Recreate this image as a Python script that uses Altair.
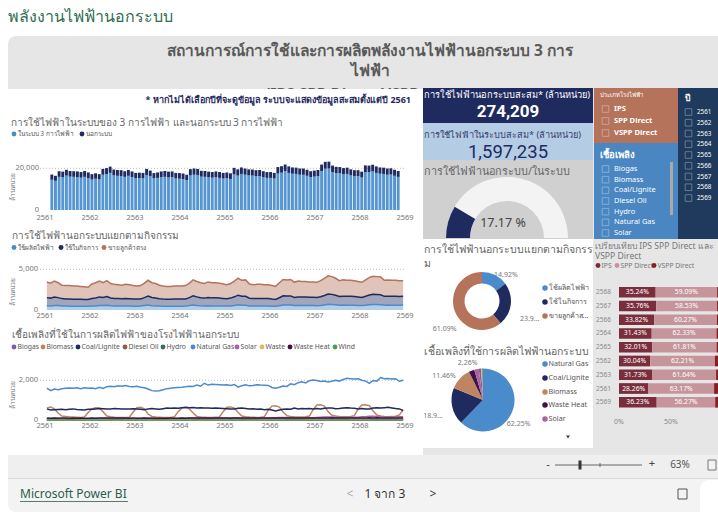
import altair as alt
import pandas as pd

FONT = "Noto Sans"
NUM_FONT = "Roboto"

# ---------------- data ----------------
year_ticks = [2561, 2562, 2563, 2564, 2565, 2566, 2567, 2568, 2569]

use_series = ["ในระบบ 3 การไฟฟ้า", "นอกระบบ"]
in_system = [
    14500, 14000, 15900, 15700, 16500, 16000, 15900, 15800, 15500, 15900, 15300, 14600,
    15000, 14700, 16900, 17200, 17800, 16600, 16400, 16300, 15900, 16400, 15800, 15200,
    15300, 15200, 16800, 16200, 15200, 15400, 15800, 15900, 15600, 15700, 15100, 15000,
    14800, 14300, 16600, 16900, 16800, 16000, 15900, 15700, 15500, 15700, 15400, 15100,
    15200, 14900, 17100, 16500, 17300, 16900, 16600, 16500, 16200, 16300, 15800, 15400,
    15400, 15100, 17500, 17900, 18600, 17800, 17400, 17300, 16900, 16900, 16400, 15800,
    16000, 16300, 18600, 19800, 19900, 18200, 17700, 17600, 17100, 17300, 16600, 16200,
    16200, 15600, 18200, 18100, 18500, 17800, 17400, 17300, 16900, 17000, 16400, 15900,
]
out_system = [
    2500, 2400, 2700, 2700, 2800, 2700, 2700, 2700, 2700, 2800, 2700, 2600,
    2600, 2500, 2800, 2900, 3000, 2800, 2800, 2800, 2700, 2800, 2700, 2600,
    2600, 2600, 2900, 2700, 2500, 2600, 2700, 2800, 2800, 2800, 2700, 2700,
    2700, 2600, 3000, 3000, 2900, 2800, 2800, 2700, 2700, 2800, 2800, 2700,
    2800, 2700, 3100, 3000, 3100, 3000, 2900, 2900, 2900, 2900, 2800, 2800,
    2800, 2700, 3100, 3100, 3200, 3100, 3000, 3000, 3000, 3000, 2900, 2800,
    2900, 2900, 3200, 3300, 3300, 3100, 3000, 3000, 3000, 3000, 2900, 2900,
    2900, 2800, 3200, 3200, 3200, 3100, 3000, 3000, 3000, 3000, 2900, 2800,
]

act_names = ["ใช้ผลิตไฟฟ้า", "ใช้ในกิจการ", "ขายลูกค้าตรง"]
act_gen = [
    520, 500, 560, 540, 500, 480, 470, 470, 460, 470, 460, 450,
    480, 500, 560, 560, 580, 520, 500, 490, 480, 490, 480, 470,
    470, 480, 540, 600, 530, 500, 480, 470, 460, 460, 470, 470,
    470, 480, 540, 620, 560, 520, 500, 520, 500, 500, 490, 480,
    480, 500, 560, 640, 580, 580, 500, 480, 490, 490, 480, 480,
    460, 450, 520, 620, 600, 610, 540, 560, 550, 550, 540, 540,
    530, 560, 620, 700, 680, 640, 580, 600, 590, 590, 580, 560,
    540, 580, 640, 680, 670, 660, 590, 600, 590, 590, 580, 600,
]
act_own = [
    1000, 960, 1040, 980, 900, 880, 870, 860, 860, 850, 840, 830,
    940, 980, 1050, 990, 1080, 960, 920, 910, 900, 930, 910, 880,
    870, 880, 980, 1100, 1000, 960, 900, 870, 860, 860, 870, 870,
    870, 880, 980, 1120, 1050, 990, 960, 1020, 990, 990, 970, 940,
    910, 960, 1060, 1180, 1100, 1110, 950, 920, 930, 930, 920, 920,
    880, 850, 990, 1130, 1110, 1120, 1010, 1050, 1040, 1040, 1020, 1020,
    1000, 1070, 1170, 1270, 1240, 1170, 1070, 1100, 1090, 1090, 1070, 1040,
    1000, 1100, 1200, 1250, 1240, 1220, 1090, 1100, 1090, 1090, 1070, 1080,
]
act_sell = [
    1930, 1840, 1950, 1830, 1650, 1640, 1660, 1620, 1630, 1580, 1550, 1520,
    1780, 1870, 1940, 1800, 1940, 1770, 1730, 1700, 1670, 1730, 1710, 1650,
    1610, 1640, 1780, 1950, 1820, 1790, 1670, 1610, 1580, 1580, 1610, 1610,
    1610, 1640, 1780, 1960, 1890, 1840, 1790, 1910, 1860, 1860, 1840, 1780,
    1710, 1790, 1930, 2080, 1970, 2010, 1750, 1700, 1730, 1730, 1700, 1700,
    1660, 1600, 1840, 2000, 1990, 2020, 1850, 1940, 1910, 1910, 1890, 1890,
    1870, 1970, 2110, 2230, 2180, 2090, 1950, 2000, 1970, 1970, 1950, 1900,
    1860, 2020, 2160, 2220, 2190, 2170, 1970, 2000, 1970, 1970, 1950, 1920,
]

fuel_names = ["Biogas", "Biomass", "Coal/Lignite", "Diesel Oil", "Hydro",
              "Natural Gas", "Solar", "Waste", "Waste Heat", "Wind"]
fuel_biogas = [
    40, 38, 41, 40, 42, 41, 40, 41, 40, 41, 40, 40,
    42, 40, 43, 42, 44, 43, 42, 43, 42, 43, 42, 42,
    43, 42, 44, 43, 44, 43, 43, 44, 43, 44, 43, 43,
    44, 43, 45, 44, 46, 45, 44, 45, 44, 45, 44, 44,
    46, 44, 47, 46, 48, 47, 46, 47, 46, 47, 46, 46,
    48, 46, 49, 48, 50, 49, 48, 49, 48, 49, 48, 48,
    50, 48, 51, 50, 52, 51, 50, 51, 50, 51, 50, 50,
    52, 50, 53, 52, 54, 53, 52, 53, 52, 53, 52, 52,
]
fuel_biomass = [
    600, 650, 560, 350, 200, 180, 160, 150, 140, 130, 150, 380,
    560, 620, 600, 420, 200, 160, 140, 130, 120, 130, 140, 400,
    620, 640, 560, 300, 180, 150, 140, 130, 120, 130, 160, 420,
    600, 630, 560, 350, 180, 150, 140, 130, 130, 140, 150, 420,
    640, 660, 600, 380, 200, 170, 150, 140, 130, 140, 170, 480,
    700, 720, 650, 400, 220, 180, 160, 150, 150, 160, 200, 520,
    760, 770, 700, 420, 240, 200, 180, 170, 170, 180, 220, 560,
    760, 770, 720, 450, 250, 200, 180, 170, 180, 190, 260, 500,
]
fuel_coal = [
    560, 500, 520, 530, 540, 520, 540, 560, 530, 520, 500, 540,
    540, 560, 580, 570, 560, 560, 580, 570, 560, 550, 560, 570,
    560, 540, 520, 560, 580, 560, 540, 570, 600, 590, 600, 590,
    620, 640, 620, 630, 610, 620, 600, 610, 590, 600, 590, 580,
    570, 560, 550, 590, 600, 580, 560, 570, 540, 550, 520, 540,
    500, 460, 500, 540, 560, 540, 600, 560, 580, 570, 580, 560,
    580, 560, 590, 610, 600, 570, 580, 600, 620, 600, 590, 560,
    580, 560, 560, 600, 620, 600, 620, 640, 610, 580, 560, 480,
]
fuel_diesel = [
    2, 1, 2, 2, 3, 2, 2, 2, 1, 2, 2, 2,
    2, 2, 3, 2, 2, 2, 1, 2, 2, 2, 2, 1,
    1, 2, 2, 3, 2, 2, 2, 2, 1, 2, 2, 2,
    2, 2, 2, 2, 3, 2, 2, 1, 2, 2, 2, 2,
    2, 1, 2, 2, 2, 3, 2, 2, 2, 2, 1, 2,
    2, 2, 2, 3, 2, 2, 2, 2, 2, 1, 2, 2,
    1, 2, 2, 2, 3, 2, 2, 2, 2, 2, 2, 2,
    2, 2, 3, 2, 2, 2, 2, 1, 2, 2, 2, 2,
]
fuel_hydro = [
    6, 5, 5, 5, 6, 8, 10, 12, 13, 11, 8, 7,
    6, 5, 5, 5, 6, 7, 9, 11, 12, 10, 8, 7,
    6, 5, 4, 4, 5, 7, 9, 11, 13, 12, 9, 7,
    6, 5, 5, 5, 6, 8, 10, 13, 14, 12, 9, 7,
    7, 6, 5, 6, 7, 9, 11, 13, 14, 12, 9, 8,
    7, 6, 5, 5, 6, 8, 10, 12, 13, 11, 8, 7,
    6, 5, 5, 5, 6, 8, 10, 12, 14, 12, 9, 8,
    7, 6, 5, 5, 6, 8, 11, 13, 14, 12, 9, 8,
]
fuel_ng = [
    1600, 1480, 1560, 1530, 1570, 1600, 1610, 1600, 1620, 1580, 1620, 1600,
    1610, 1580, 1650, 1590, 1680, 1700, 1680, 1720, 1700, 1740, 1690, 1680,
    1700, 1650, 1620, 1560, 1480, 1460, 1470, 1520, 1580, 1600, 1620, 1640,
    1650, 1670, 1700, 1690, 1760, 1700, 1850, 1760, 1800, 1790, 1780, 1760,
    1770, 1740, 1790, 1660, 1730, 1780, 1720, 1740, 1780, 1760, 1750, 1740,
    1640, 1600, 1650, 1710, 1690, 1820, 1780, 1880, 1920, 1870, 1980, 2010,
    1990, 1940, 1960, 1920, 1950, 2000, 1960, 2040, 2100, 2080, 2060, 2080,
    2000, 1960, 1850, 1990, 1960, 2140, 2080, 2090, 2070, 2080, 1950, 2000,
]
fuel_solar = [
    62, 66, 72, 70, 68, 62, 60, 60, 58, 62, 64, 62,
    68, 72, 80, 78, 74, 68, 66, 66, 64, 68, 70, 68,
    74, 80, 88, 86, 82, 76, 74, 72, 70, 74, 78, 76,
    82, 88, 96, 94, 90, 84, 80, 78, 76, 82, 86, 84,
    92, 98, 108, 106, 100, 94, 90, 88, 86, 92, 96, 94,
    108, 116, 128, 126, 120, 110, 106, 104, 100, 108, 114, 112,
    130, 140, 154, 152, 146, 134, 128, 126, 122, 132, 138, 136,
    158, 170, 186, 184, 176, 162, 156, 152, 148, 160, 168, 166,
]
fuel_waste = [
    14, 13, 14, 14, 15, 14, 14, 14, 14, 14, 14, 14,
    15, 14, 15, 15, 16, 15, 15, 15, 15, 15, 15, 15,
    16, 15, 16, 16, 16, 16, 16, 16, 16, 16, 16, 16,
    17, 16, 17, 17, 18, 17, 17, 17, 17, 17, 17, 17,
    18, 17, 19, 18, 19, 18, 18, 18, 18, 18, 18, 18,
    19, 18, 20, 20, 21, 20, 20, 20, 20, 20, 20, 20,
    21, 20, 22, 22, 23, 22, 22, 22, 22, 22, 22, 22,
    23, 22, 24, 24, 25, 24, 24, 24, 24, 24, 24, 24,
]
fuel_wasteheat = [
    95, 88, 96, 94, 98, 95, 94, 96, 93, 95, 92, 94,
    96, 90, 98, 97, 100, 97, 96, 97, 95, 96, 94, 95,
    94, 90, 95, 92, 88, 90, 92, 94, 93, 95, 94, 94,
    96, 92, 100, 99, 101, 98, 97, 98, 96, 98, 96, 97,
    98, 94, 102, 100, 103, 100, 99, 100, 98, 99, 97, 98,
    99, 95, 104, 103, 106, 102, 101, 102, 100, 101, 99, 100,
    102, 98, 107, 106, 108, 104, 103, 104, 102, 103, 101, 102,
    103, 99, 108, 107, 109, 105, 104, 105, 103, 104, 102, 103,
]
fuel_wind = [
    4, 4, 5, 5, 6, 7, 8, 8, 6, 5, 4, 4,
    4, 4, 5, 5, 6, 7, 8, 9, 7, 5, 4, 4,
    5, 4, 5, 5, 6, 8, 9, 9, 7, 5, 5, 4,
    5, 4, 5, 6, 7, 8, 9, 9, 7, 6, 5, 5,
    5, 5, 5, 6, 7, 8, 9, 10, 8, 6, 5, 5,
    5, 5, 6, 6, 7, 9, 10, 10, 8, 6, 5, 5,
    6, 5, 6, 6, 7, 9, 10, 11, 8, 6, 5, 5,
    6, 5, 6, 7, 8, 9, 11, 11, 9, 7, 6, 5,
]
fuel_values = [fuel_biogas, fuel_biomass, fuel_coal, fuel_diesel, fuel_hydro,
               fuel_ng, fuel_solar, fuel_waste, fuel_wasteheat, fuel_wind]

kpi_out_total = 274209
kpi_in_total = 1597235
gauge_pct = 17.17

act_share = [14.92, 23.99, 61.09]
act_share_lbl = ["14.92%", "23.9...", "61.09%"]
act_legend = ["ใช้ผลิตไฟฟ้า", "ใช้ในกิจการ", "ขายลูกค้าส..."]

pie_names = ["Natural Gas", "Coal/Lignite", "Biomass", "Waste Heat", "Solar",
             "Biogas", "Waste", "Hydro", "Wind", "Diesel Oil"]
pie_share = [62.25, 18.93, 11.46, 2.90, 2.26, 1.20, 0.50, 0.30, 0.10, 0.10]
pie_lbl = ["62.25%", "18.9...", "11.46%", "", "2.26%", "", "", "", "", ""]
pie_legend = ["Natural Gas", "Coal/Lignite", "Biomass", "Waste Heat", "Solar"]

plant_types = ["IPS", "SPP Direct", "VSPP Direct"]
cmp_years = ["2568", "2567", "2566", "2564", "2565", "2562", "2563", "2561", "2569"]
cmp_ips = [35.24, 35.76, 33.82, 31.43, 32.01, 30.04, 31.73, 28.26, 36.23]
cmp_spp = [59.09, 58.53, 60.27, 62.33, 61.81, 62.21, 61.64, 63.17, 56.27]
cmp_vspp = [5.67, 5.71, 5.91, 6.24, 6.18, 7.75, 6.63, 8.57, 7.50]
cmp_ticks = [0, 50]

slicer_types = ["IPS", "SPP Direct", "VSPP Direct"]
slicer_fuels = ["Biogas", "Biomass", "Coal/Lignite", "Diesel Oil", "Hydro", "Natural Gas", "Solar"]
slicer_years = ["2561", "2562", "2563", "2564", "2565", "2566", "2567", "2568", "2569"]

# ---------------- styles ----------------
C_BLUE = "#4A8BCB"
C_NAVY = "#1F2A5E"
C_BROWN = "#B5735B"
fuel_colors = ["#7B5EA7", "#BF8563", "#1F2A5E", "#A3524A", "#3A6B64",
               "#4A8BCB", "#B0609C", "#D9BE5A", "#3D1248", "#4E9A5A"]
fuel_color_map = dict(zip(fuel_names, fuel_colors))
plant_colors = ["#7A2E3B", "#C6959C", "#8C1C24"]
GREY_TXT = "#666666"

blank = pd.DataFrame({"a": [0]})


def box(x1, y1, x2, y2, fill, **kw):
    return alt.Chart(blank).mark_rect(fill=fill, **kw).encode(
        x=alt.value(x1), x2=alt.value(x2), y=alt.value(y1), y2=alt.value(y2))


def label(x, y, s, size=10, color=GREY_TXT, weight="normal", align="left",
          baseline="middle", font=FONT, **kw):
    return alt.Chart(blank).mark_text(
        text=s, fontSize=size, color=color, fontWeight=weight, align=align,
        baseline=baseline, font=font, **kw).encode(x=alt.value(x), y=alt.value(y))


def hline(x1, x2, y, color="#999", width=1, **kw):
    return alt.Chart(blank).mark_rule(color=color, strokeWidth=width, **kw).encode(
        x=alt.value(x1), x2=alt.value(x2), y=alt.value(y))


def legend_row(names, colors, xs, y, size=7.0, dot=24, color="#555"):
    out = []
    for n, c, x in zip(names, colors, xs):
        out.append(alt.Chart(blank).mark_circle(size=dot, color=c, opacity=1).encode(
            x=alt.value(x), y=alt.value(y)))
        out.append(label(x + 3.5, y, n, size=size, color=color))
    return out


t_month = [2561 + (i + 0.5) / 12 for i in range(96)]
XR = [45, 405]


def xsc():
    return alt.Scale(domain=[2561, 2569], range=XR, nice=False, zero=False)


def x_ticks(y):
    return alt.Chart(pd.DataFrame({"yr": year_ticks})).mark_text(
        fontSize=7.5, color="#777", font=FONT, align="center", baseline="middle").encode(
        x=alt.X("yr:Q", scale=xsc(), axis=None), y=alt.value(y),
        text=alt.Text("yr:Q", format="d"))


def y_ticks(ysc, vals, x):
    return alt.Chart(pd.DataFrame({"v": vals})).mark_text(
        fontSize=7.5, color="#777", font=FONT, align="right", baseline="middle").encode(
        y=alt.Y("v:Q", scale=ysc, axis=None), x=alt.value(x),
        text=alt.Text("v:Q", format=","))


def grid(ysc, val, x1=40, x2=405):
    return alt.Chart(pd.DataFrame({"v": [val]})).mark_rule(
        color="#BDBDBD", strokeDash=[1, 2], strokeWidth=1).encode(
        y=alt.Y("v:Q", scale=ysc, axis=None), x=alt.value(x1), x2=alt.value(x2))


# ---------- chart 1 : stacked monthly bars ----------
df1 = pd.DataFrame({
    "t": t_month * 2,
    "series": [use_series[0]] * 96 + [use_series[1]] * 96,
    "v": in_system + out_system,
    "k": [0] * 96 + [1] * 96,
})
y1s = alt.Scale(domain=[0, 20000], range=[210, 168.3], nice=False, zero=False)
bars1 = alt.Chart(df1).transform_stack(
    stack="v", groupby=["t"], sort=[alt.SortField("k", order="ascending")], as_=["y0", "y1"]
).mark_bar(size=2.9).encode(
    x=alt.X("t:Q", scale=xsc(), axis=None),
    y=alt.Y("y1:Q", scale=y1s, axis=None), y2="y0:Q",
    color=alt.Color("series:N", scale=alt.Scale(domain=use_series, range=["#5595D2", C_NAVY]), legend=None),
)
chart1 = [grid(y1s, 20000), bars1, y_ticks(y1s, [0, 20000], 39), x_ticks(217.5)]

# ---------- chart 2 : stacked areas ----------
df2 = pd.DataFrame({
    "t": t_month * 3,
    "series": [act_names[0]] * 96 + [act_names[1]] * 96 + [act_names[2]] * 96,
    "v": act_gen + act_own + act_sell,
    "k": [0] * 96 + [1] * 96 + [2] * 96,
})
y2s = alt.Scale(domain=[0, 5000], range=[310, 269.3], nice=False, zero=False)
c2 = alt.Color("series:N", scale=alt.Scale(domain=act_names, range=[C_BLUE, C_NAVY, C_BROWN]), legend=None)
base2 = alt.Chart(df2).transform_stack(
    stack="v", groupby=["t"], sort=[alt.SortField("k", order="ascending")], as_=["y0", "y1"])
area2 = base2.mark_area(fillOpacity=0.42).encode(
    x=alt.X("t:Q", scale=xsc(), axis=None),
    y=alt.Y("y1:Q", scale=y2s, axis=None), y2="y0:Q", color=c2)
line2 = base2.mark_line(strokeWidth=1.5).encode(
    x=alt.X("t:Q", scale=xsc(), axis=None),
    y=alt.Y("y1:Q", scale=y2s, axis=None), color=c2)
chart2 = [grid(y2s, 5000), area2, line2, y_ticks(y2s, [0, 5000], 38), x_ticks(315.5)]

# ---------- chart 3 : fuel lines ----------
rows3 = []
for name, vals in zip(fuel_names, fuel_values):
    for tt, v in zip(t_month, vals):
        rows3.append({"t": tt, "fuel": name, "v": v})
df3 = pd.DataFrame(rows3)
y3s = alt.Scale(domain=[0, 2000], range=[420, 380.3], nice=False, zero=False)
lines3 = alt.Chart(df3).mark_line(strokeWidth=1.5).encode(
    x=alt.X("t:Q", scale=xsc(), axis=None),
    y=alt.Y("v:Q", scale=y3s, axis=None),
    color=alt.Color("fuel:N", scale=alt.Scale(domain=fuel_names, range=fuel_colors), legend=None),
)
chart3 = [grid(y3s, 2000), lines3, y_ticks(y3s, [0, 2000], 38), x_ticks(426)]

# ---------- KPI cards ----------
kpi1 = alt.Chart(pd.DataFrame({"v": [kpi_out_total]})).mark_text(
    fontSize=17, fontWeight="bold", color="white", font=NUM_FONT).encode(
    x=alt.value(508), y=alt.value(112), text=alt.Text("v:Q", format=","))
kpi2 = alt.Chart(pd.DataFrame({"v": [kpi_in_total]})).mark_text(
    fontSize=18.5, fontWeight="normal", color=C_NAVY, font=NUM_FONT).encode(
    x=alt.value(508), y=alt.value(151.5), text=alt.Text("v:Q", format=","))

# ---------- gauge ----------
GX, GY = 507, 238
gscale = alt.Scale(domain=[0, 100], range=[4.712389, 7.853982])
dfg = pd.DataFrame({"lo": [0, 0], "v": [100, gauge_pct], "part": ["max", "value"]})
gauge_arc = alt.Chart(dfg).mark_arc(radius=61, radius2=37).encode(
    theta=alt.Theta("lo:Q", scale=gscale, stack=None),
    theta2="v:Q",
    color=alt.Color("part:N", scale=alt.Scale(domain=["max", "value"], range=["#F3F3F3", C_NAVY]), legend=None),
    order=alt.Order("v:Q", sort="descending"),
    x=alt.value(GX), y=alt.value(GY))
gauge_txt = alt.Chart(pd.DataFrame({"v": [gauge_pct]})).transform_calculate(
    s="format(datum.v, '.2f') + ' %'").mark_text(
    fontSize=12.5, color="#444", font=FONT).encode(
    x=alt.value(503), y=alt.value(223), text="s:N")

# ---------- donut ----------
dfd = pd.DataFrame({"name": act_names, "pct": act_share, "lbl": act_share_lbl, "k": [0, 1, 2]})
DX, DY = 482, 301
dcol = alt.Color("name:N", scale=alt.Scale(domain=act_names, range=[C_BLUE, C_NAVY, C_BROWN]), legend=None)
donut_arc = alt.Chart(dfd).mark_arc(radius=29, radius2=17.5).encode(
    theta=alt.Theta("pct:Q", stack=True), color=dcol,
    order=alt.Order("k:Q"), x=alt.value(DX), y=alt.value(DY))
donut_lbl = alt.Chart(dfd).mark_text(radius=44, dx=4, dy=13, fontSize=7, color="#777", font=FONT).encode(
    theta=alt.Theta("pct:Q", stack=True), order=alt.Order("k:Q"), detail="name:N",
    text="lbl:N", x=alt.value(DX), y=alt.value(DY))

# ---------- pie ----------
dfp = pd.DataFrame({"name": pie_names, "pct": pie_share, "lbl": pie_lbl, "k": list(range(len(pie_names)))})
PX, PY = 483, 400
pie_arc = alt.Chart(dfp).mark_arc(radius=31.5).encode(
    theta=alt.Theta("pct:Q", stack=True),
    color=alt.Color("name:N", scale=alt.Scale(domain=pie_names, range=[fuel_color_map[n] for n in pie_names]), legend=None),
    order=alt.Order("k:Q"), x=alt.value(PX), y=alt.value(PY))
pie_txt = alt.Chart(dfp).mark_text(radius=45, dx=-6, dy=7, fontSize=7, color="#777", font=FONT).encode(
    theta=alt.Theta("pct:Q", stack=True), order=alt.Order("k:Q"), detail="name:N",
    text="lbl:N", x=alt.value(PX), y=alt.value(PY))

# ---------- 100% bars IPS / SPP / VSPP ----------
rowsb = []
for i, yr in enumerate(cmp_years):
    for k, (tp, vals) in enumerate(zip(plant_types, [cmp_ips, cmp_spp, cmp_vspp])):
        rowsb.append({"yr": yr, "type": tp, "pct": vals[i], "k": k})
dfb = pd.DataFrame(rowsb)


def xbs():
    return alt.Scale(domain=[0, 100], range=[619, 723], nice=False, zero=False)


def ybs():
    return alt.Scale(type="band", domain=cmp_years, range=[285.5, 409], paddingInner=0.22, paddingOuter=0.1)


baseb = alt.Chart(dfb).transform_stack(
    stack="pct", groupby=["yr"], sort=[alt.SortField("k", order="ascending")], as_=["x0", "x1"]
).transform_calculate(xm="(datum.x0 + datum.x1) / 2", s="format(datum.pct, '.2f') + '%'")
barsb = baseb.mark_bar().encode(
    x=alt.X("x0:Q", scale=xbs(), axis=None), x2="x1:Q",
    y=alt.Y("yr:N", scale=ybs(), axis=None),
    color=alt.Color("type:N", scale=alt.Scale(domain=plant_types, range=plant_colors), legend=None))
lblb = baseb.transform_filter("datum.k < 2").mark_text(fontSize=6.8, color="white", font=FONT).encode(
    x=alt.X("xm:Q", scale=xbs(), axis=None), y=alt.Y("yr:N", scale=ybs(), axis=None), text="s:N")
yrb = alt.Chart(pd.DataFrame({"yr": cmp_years})).mark_text(
    fontSize=6.5, color="#888", font=FONT, align="left").encode(
    y=alt.Y("yr:N", scale=ybs(), axis=None), x=alt.value(596), text="yr:N")
xtb = alt.Chart(pd.DataFrame({"v": cmp_ticks})).transform_calculate(
    s="datum.v + '%'").mark_text(fontSize=7, color="#888", font=FONT).encode(
    x=alt.X("v:Q", scale=xbs(), axis=None), y=alt.value(422), text="s:N")


# ---------- slicers ----------
def slicer(items, yrange, xbox, xtext, size, weight="normal"):
    d = pd.DataFrame({"item": items})
    boxes = alt.Chart(d).mark_square(size=44, filled=False, color="white", opacity=0.4,
                                     strokeWidth=0.8).encode(
        y=alt.Y("item:N", scale=alt.Scale(type="point", domain=items, range=yrange, padding=0), axis=None),
        x=alt.value(xbox))
    texts = alt.Chart(d).mark_text(align="left", fontSize=size, color="white",
                                   fontWeight=weight, font=FONT).encode(
        y=alt.Y("item:N", scale=alt.Scale(type="point", domain=items, range=yrange, padding=0), axis=None),
        x=alt.value(xtext), text="item:N")
    return [boxes, texts]


# ---------------- assemble ----------------
layers = [
    label(8, 17, "พลังงานไฟฟ้านอกระบบ", size=16, color="#2E6E50"),
    box(8, 36, 718, 478, "#E6E6E6", cornerRadiusTopLeft=8),
    box(8, 455, 718, 478, "#EFEFEF"),
    box(8, 478, 718, 512, "#F3F3F3", cornerRadiusBottomLeft=8),
    hline(8, 718, 478.5, color="#DADADA"),
    label(370, 51, "สถานการณ์การใช้และการผลิตพลังงานไฟฟ้านอกระบบ 3 การ", size=15.5, color="#5A5A5A",
          weight="bold", align="center"),
    label(370, 71, "ไฟฟ้า", size=15.5, color="#5A5A5A", weight="bold", align="center"),
    label(370, 94.8, "(IPS SPP Direct VSPP Direct)", size=15.5, color="#5A5A5A", weight="bold", align="center"),
    box(8, 89, 423, 455, "white"),
    box(418, 239, 593, 448, "white"),
    box(423, 88, 593, 123, C_NAVY),
    box(423, 123, 593, 160, "#B5CCE5"),
    box(423, 160, 593, 239, "#D0D0D0"),
    box(594, 88, 678, 143, "#B5735B"),
    box(594, 143, 678, 239, "#4A86C2"),
    box(678, 88, 718, 239, "#1F3A5C"),
    box(593, 239, 718, 445, "#E6E6E6"),
    label(411, 99.5, "* หากไม่ได้เลือกปีที่จะดูข้อมูล ระบบจะแสดงข้อมูลสะสมตั้งแต่ปี 2561", size=9,
          color=C_NAVY, weight="bold", align="right"),
    label(11, 122.5, "การใช้ไฟฟ้าในระบบของ 3 การไฟฟ้า และนอกระบบ 3 การไฟฟ้า", size=10, color=GREY_TXT),
    label(13, 187, "ล้านหน่วย", size=6.5, color="#777", align="center", angle=270),
    label(12, 235.5, "การใช้ไฟฟ้านอกระบบแยกตามกิจกรรม", size=10, color=GREY_TXT),
    label(13, 292, "ล้านหน่วย", size=6.5, color="#777", align="center", angle=270),
    label(12, 334.5, "เชื้อเพลิงที่ใช้ในการผลิตไฟฟ้าของโรงไฟฟ้านอกระบบ", size=10, color=GREY_TXT),
    label(13, 395, "ล้านหน่วย", size=6.5, color="#777", align="center", angle=270),
]
layers += legend_row(use_series, [C_BLUE, C_NAVY], [14, 82], 134, size=6.5)
layers += legend_row(act_names, [C_BLUE, C_NAVY, C_BROWN], [14, 61, 104], 247.5, size=6.5)
layers += legend_row(fuel_names, fuel_colors, [14, 43, 78, 125, 163, 193, 237, 262, 290, 335], 347, size=6.8)
layers += chart1 + chart2 + chart3

layers += [
    label(424, 95, "การใช้ไฟฟ้านอกระบบสะสม* (ล้านหน่วย)", size=9.3, color="white"),
    kpi1,
    label(424, 135, "การใช้ไฟฟ้าในระบบสะสม* (ล้านหน่วย)", size=9.2, color="#36416E"),
    kpi2,
    label(424, 172, "การใช้ไฟฟ้านอกระบบ/ในระบบ", size=10.8, color="#666"),
    gauge_arc, gauge_txt,
]

layers += [
    label(424, 250, "การใช้ไฟฟ้านอกระบบแยกตามกิจกรร", size=10.5, color="#666"),
    label(424, 264, "ม", size=10.5, color="#666"),
    donut_arc, donut_lbl,
]
for n, c, yy in zip(act_legend, [C_BLUE, C_NAVY, C_BROWN], [288, 302, 316]):
    layers += legend_row([n], [c], [545], yy, size=7.2, dot=30)
layers += [label(424, 352, "เชื้อเพลิงที่ใช้การผลิตไฟฟ้านอกระบบ", size=10.5, color="#666"), pie_arc, pie_txt]
for n, yy in zip(pie_legend, [364, 378, 392, 405, 419]):
    layers += legend_row([n], [fuel_color_map[n]], [545], yy, size=7.2, dot=30)
layers += [alt.Chart(blank).mark_point(shape="triangle-down", filled=True, size=14, color="#333", opacity=1).encode(
    x=alt.value(568), y=alt.value(437))]

layers += [label(600, 95, "ประเภทโรงไฟฟ้า", size=6, color="white")]
layers += slicer(slicer_types, [109, 133], 605.5, 614, 7.6, "bold")
layers += [label(600, 155, "เชื้อเพลิง", size=9.5, color="white", weight="bold")]
layers += slicer(slicer_fuels, [169, 233], 605.5, 614, 7.4, "normal")
layers += [box(670, 162, 673, 215, "#A9A9A9"), label(685, 98, "ปี", size=8.5, color="white", weight="bold")]
layers += slicer(slicer_years, [112, 198], 688.5, 697, 6.3, "normal")

layers += [
    label(595, 246, "เปรียบเทียบ IPS SPP Direct และ", size=8.6, color="#777"),
    label(595, 256, "VSPP Direct", size=8.6, color="#777"),
]
layers += legend_row(plant_types, plant_colors, [598, 617, 654], 265.5, size=6.8, color="#777")
layers += [barsb, lblb, yrb, xtb]

layers += [
    label(548, 465, "-", size=11, color="#444", align="center"),
    hline(555, 642, 465, color="#666", width=1),
    box(578.5, 460.5, 581.5, 469.5, "#333"),
    alt.Chart(blank).mark_rule(color="#666").encode(x=alt.value(600), y=alt.value(463), y2=alt.value(467)),
    label(652, 464, "+", size=11, color="#444", align="center"),
    label(680, 465, "63%", size=10, color="#555", align="center"),
    box(708, 460, 716, 470, "#F3F3F3", stroke="#777", strokeWidth=1),
    label(20, 494, "Microsoft Power BI", size=12, color="#2B5E4E"),
    hline(20, 128, 501.5, color="#2B5E4E", width=0.8),
    label(350, 494, "<", size=12, color="#AAA", align="center"),
    label(385, 494, "1 จาก 3", size=12, color="#333", align="center"),
    label(433, 494, ">", size=12, color="#333", align="center"),
    box(678, 489, 687, 499, "#F3F3F3", stroke="#555", strokeWidth=1),
    box(700, 480, 718, 514, "white", cornerRadiusTopLeft=10),
]

chart = alt.layer(*layers).resolve_scale(
    x="independent", y="independent", color="independent", theta="independent"
).properties(
    width=718, height=514, padding=0,
    autosize=alt.AutoSizeParams(type="none"), background="white",
).configure_view(strokeWidth=0)

chart.save("out.html", embed_options={"renderer": "svg", "actions": False})
